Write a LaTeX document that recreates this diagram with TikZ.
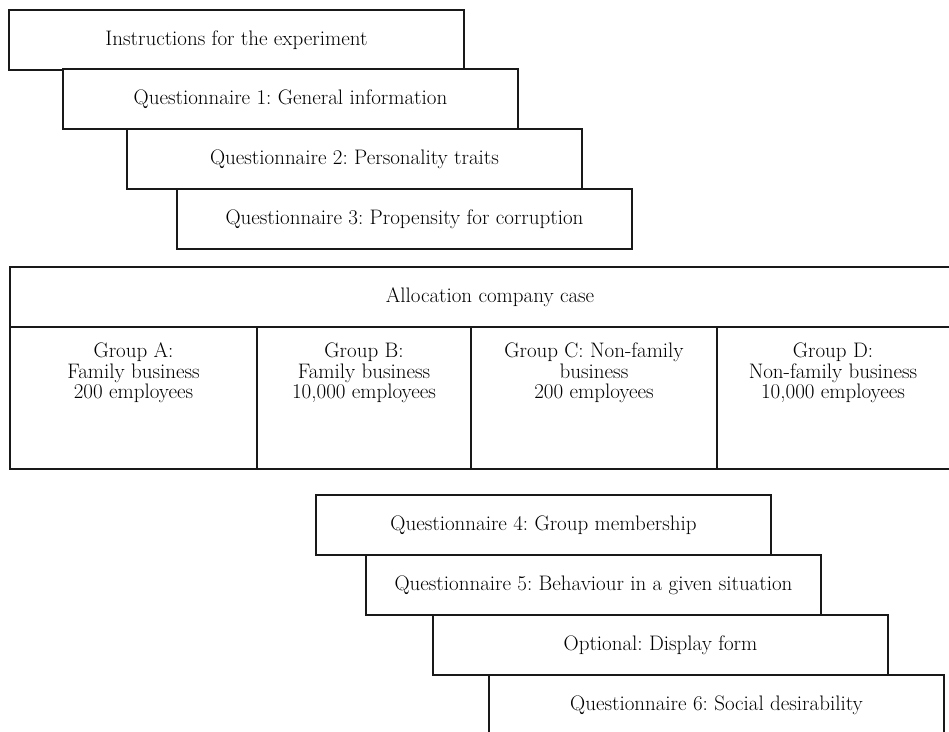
\documentclass[tikz,border=0pt]{standalone}
\frenchspacing
\begin{document}
\begin{tikzpicture}[x=1pt,y=1pt,
  lbl/.style={font=\fontsize{21}{20.5}\selectfont, align=center},
  stackbox/.style={draw=black!90, fill=white, line width=1.4pt, anchor=north west,
    minimum width=455pt, minimum height=60pt, inner sep=0pt, outer sep=0pt, lbl},
  cellbox/.style={draw=black!90, fill=white, line width=1.4pt, anchor=north west,
    inner sep=0pt, outer sep=0pt, lbl}]
\useasboundingbox (0,0) rectangle (949,-731);
\clip (0,0) rectangle (949,-731);
% top stack
\node[stackbox] (s1) at (9,-10) {Instructions for the experiment};
\node[stackbox] (s2) at (63,-69) {Questionnaire 1: General information};
\node[stackbox] (s3) at (127,-129) {Questionnaire 2: Personality traits};
\node[stackbox] (s4) at (177,-189) {Questionnaire 3: Propensity for corruption};
% table
\node[cellbox, minimum width=960pt, minimum height=60pt] (hdr) at (10,-267) {Allocation company case};
\node[cellbox, minimum width=247pt, minimum height=142pt] (ga) at (10,-327) {};
\node[cellbox, minimum width=214pt, minimum height=142pt] (gb) at (257,-327) {};
\node[cellbox, minimum width=246pt, minimum height=142pt] (gc) at (471,-327) {};
\node[cellbox, minimum width=243pt, minimum height=142pt] (gd) at (717,-327) {};
\node[lbl, anchor=center] (tA) at (ga.north |- 0,-373) {Group A:\\Family business\\200 employees};
\node[lbl, anchor=center] (tB) at (gb.north |- 0,-373) {Group B:\\Family business\\10,000 employees};
\node[lbl, anchor=center] (tC) at (gc.north |- 0,-373) {Group C: Non-family\\business\\200 employees};
\node[lbl, anchor=center] (tD) at (833,-373) {Group D:\\Non-family business\\10,000 employees};
% bottom stack
\node[stackbox] (b1) at (316,-495) {Questionnaire 4: Group membership};
\node[stackbox] (b2) at (366,-555) {Questionnaire 5: Behaviour in a given situation};
\node[stackbox] (b3) at (433,-615) {Optional: Display form};
\node[stackbox] (b4) at (489,-675) {Questionnaire 6: Social desirability};
\end{tikzpicture}
\end{document}
